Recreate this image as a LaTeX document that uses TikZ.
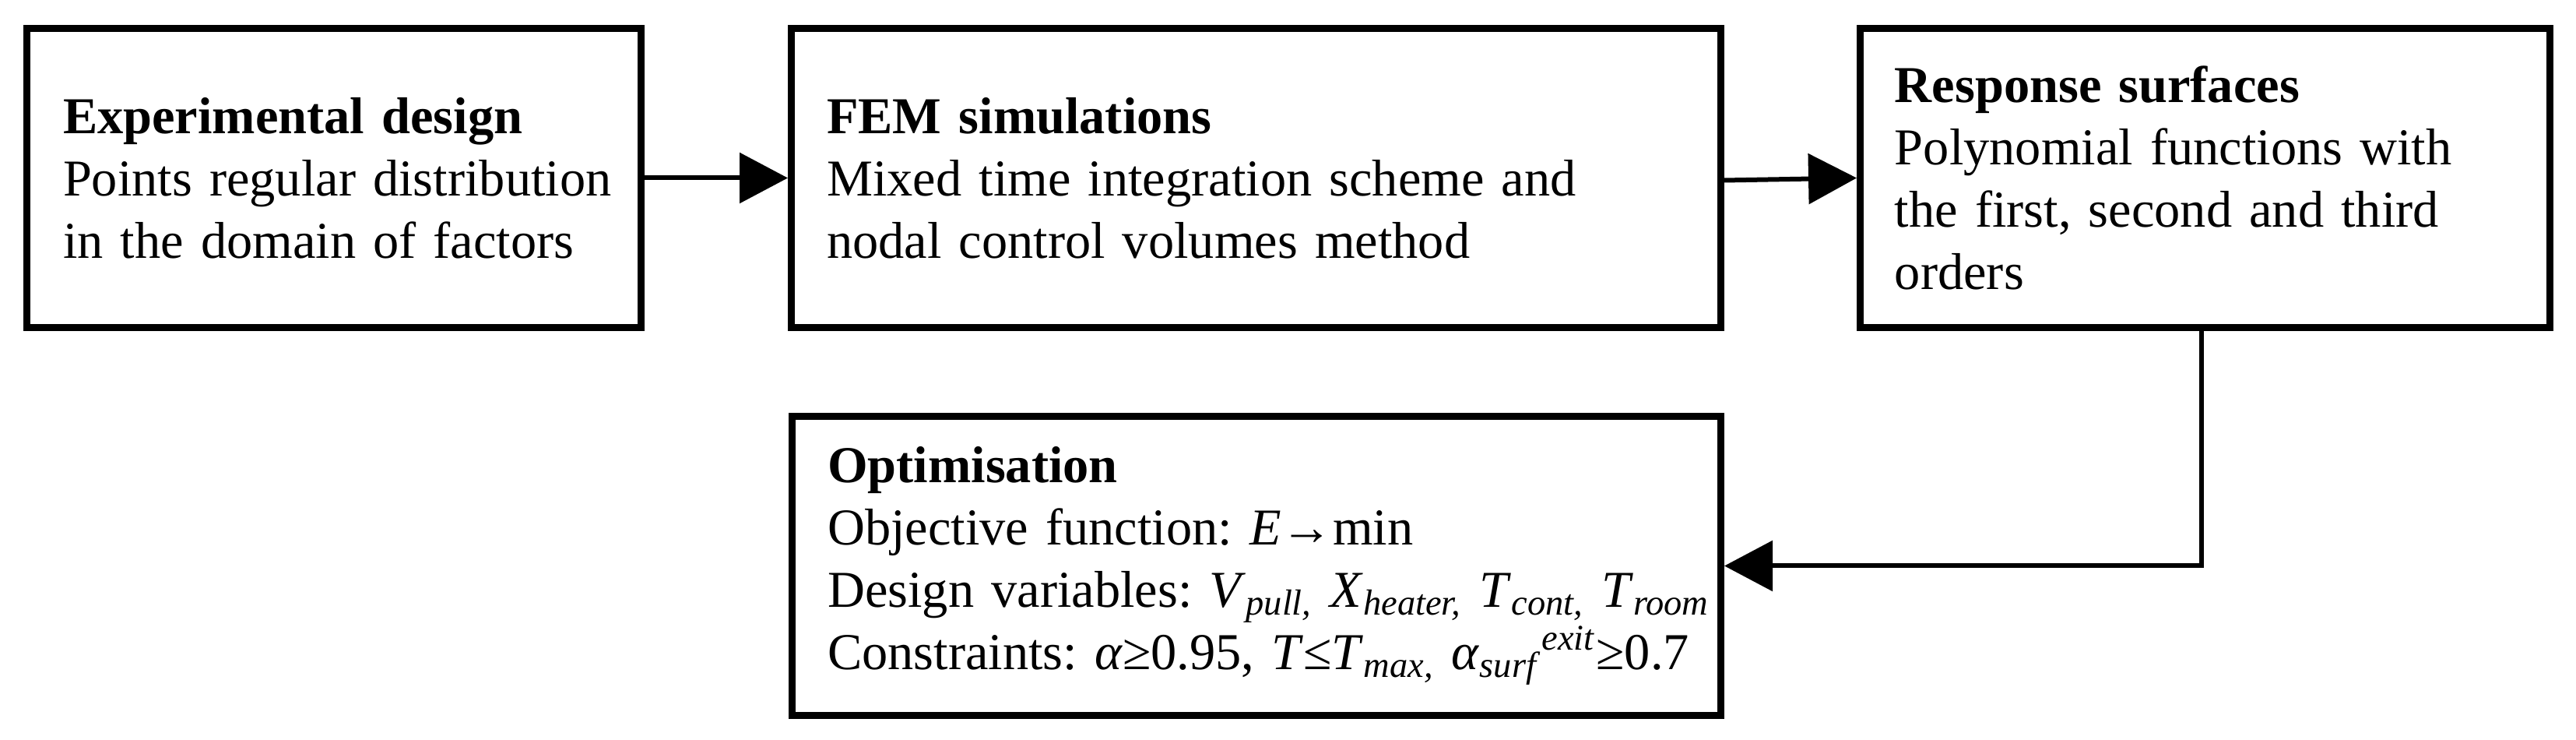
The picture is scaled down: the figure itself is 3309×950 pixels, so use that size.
\documentclass[tikz,border=0pt]{standalone}
\usepackage{fontspec}
\setmainfont{Liberation Serif}
\usetikzlibrary{arrows.meta}
\tikzset{
  stagebox/.style={draw=black, line width=2.25pt, fill=white, rectangle,
    minimum height=96pt, align=left, inner ysep=0pt,
    font=\fontsize{16.6pt}{20pt}\selectfont\frenchspacing},
  conn/.style={line width=1.5pt, -{Triangle[length=15.5pt,width=16pt]}}
}
\begin{document}
\begin{tikzpicture}[x=0.25pt,y=-0.25pt]
\useasboundingbox[fill=white] (0,0) rectangle (3309,950);
\node[stagebox, minimum width=197.25pt, inner xsep=11.6pt, text width=174pt] (b1) at (429,228.5)
  {\mbox{\textbf{Experimental design}}\\\mbox{Points regular distribution}\\\mbox{in the domain of factors}};
\node[stagebox, minimum width=298.5pt, inner xsep=11.4pt, text width=275.7pt] (b2) at (1613.5,228.5)
  {\mbox{\textbf{FEM simulations}}\\\mbox{Mixed time integration scheme and}\\\mbox{nodal control volumes method}};
\node[stagebox, minimum width=221.5pt, inner xsep=11.1pt, text width=199.3pt] (b3) at (2832.5,228.5)
  {\mbox{\textbf{Response surfaces}}\\\mbox{Polynomial functions with}\\\mbox{the first, second and third}\\\mbox{orders}};
\node[stagebox, minimum width=298.25pt, inner xsep=11.4pt, text width=275.45pt] (b4) at (1614,726.5)
  {\mbox{\textbf{Optimisation}}\\
   \mbox{Objective function: \textit{E}→min}\\
   \mbox{Design variables: \textit{V}\textsubscript{\textit{pull,}} \textit{X}\textsubscript{\textit{heater,}} \textit{T}\textsubscript{\textit{cont,}} \textit{T}\textsubscript{\textit{room}}}\\
   \mbox{Constraints: \textit{α}≥0.95, \textit{T}≤\textit{T}\textsubscript{\textit{max,}} \textit{α}\textsubscript{\textit{surf}}\textsuperscript{\textit{exit}}≥0.7}};
\coordinate (fb) at (2828,600);
\draw[conn] (b1.east) -- (b2.west);
\draw[conn] ([yshift=-0.75pt]b2.east) -- (b3.west);
\draw[conn] (b3.south -| fb) |- (b4.east);
\end{tikzpicture}
\end{document}
